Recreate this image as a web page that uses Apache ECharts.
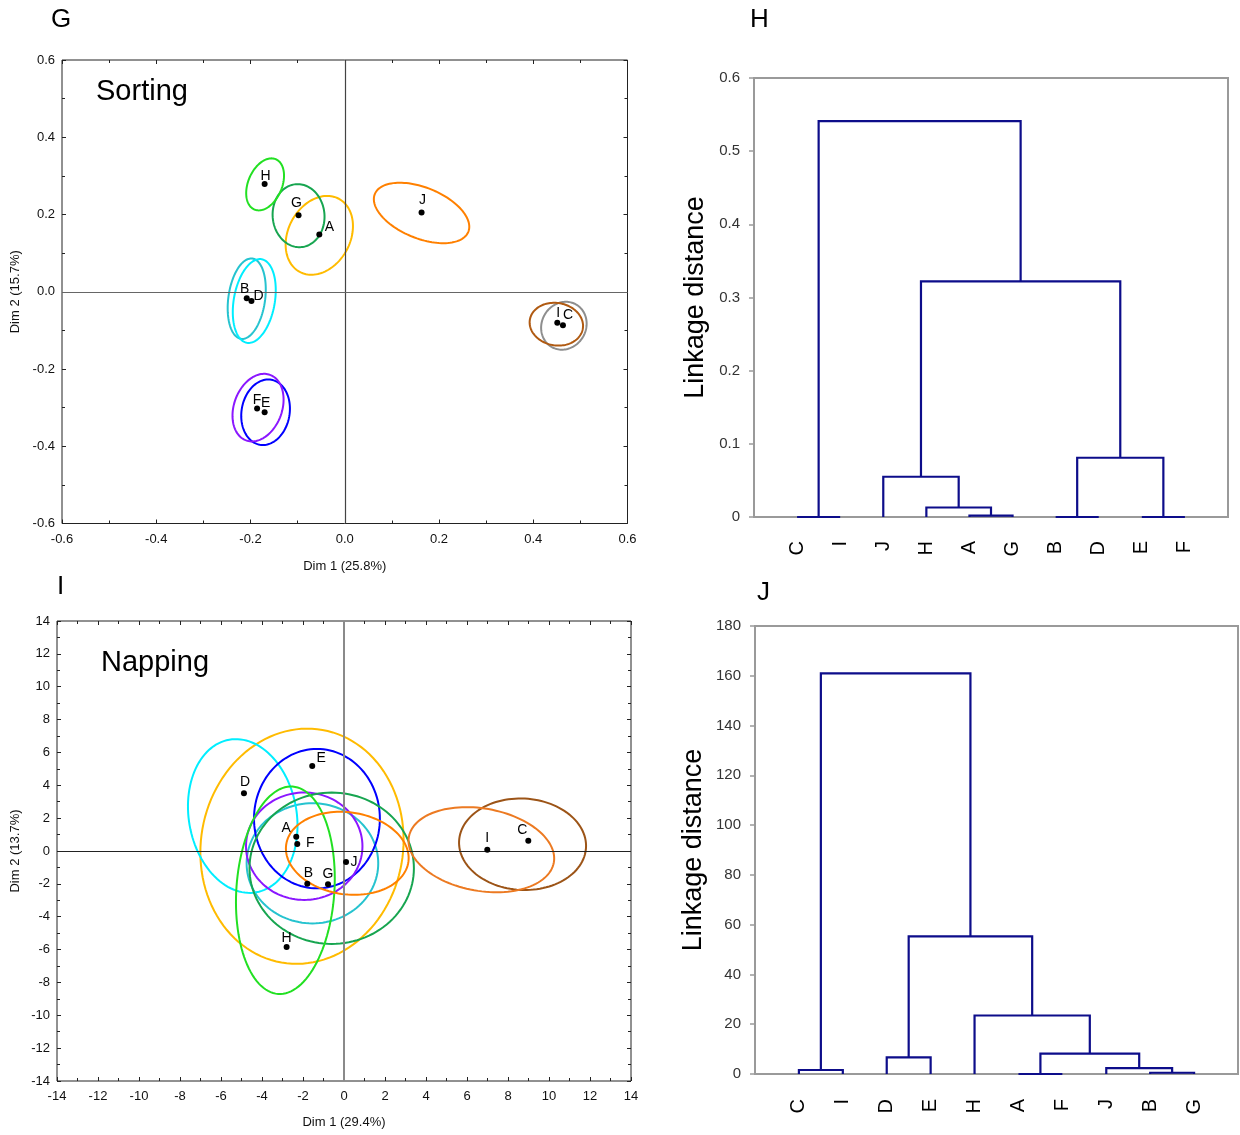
<!DOCTYPE html>
<html>
<head>
<meta charset="utf-8">
<script src="https://cdn.jsdelivr.net/npm/echarts@6/dist/echarts.min.js"></script>
<style>
  html, body { margin: 0; padding: 0; background: #ffffff; }
  #chart { width: 1240px; height: 1135px; }
</style>
</head>
<body>
<div id="chart"></div>
<script>
// ---------- Products ----------
const products = ['A', 'B', 'C', 'D', 'E', 'F', 'G', 'H', 'I', 'J'];

// ---------- Sorting map (panel G) ----------
const sortDim1 = [-0.054, -0.208, 0.463, -0.198, -0.170, -0.186, -0.098, -0.170, 0.451, 0.163];
const sortDim2 = [0.148, -0.017, -0.087, -0.024, -0.312, -0.302, 0.198, 0.279, -0.080, 0.205];
// confidence ellipses: centre, semi-axes (in Dim 1 units), tilt (degrees)
const sortEllCx   = [-0.054, -0.208, 0.465, -0.192, -0.168, -0.184, -0.098, -0.169, 0.449, 0.163];
const sortEllCy   = [0.146, -0.018, -0.088, -0.024, -0.312, -0.300, 0.197, 0.278, -0.084, 0.204];
const sortEllA    = [0.088, 0.086, 0.052, 0.090, 0.070, 0.074, 0.067, 0.058, 0.057, 0.107];
const sortEllB    = [0.066, 0.039, 0.047, 0.0435, 0.051, 0.051, 0.055, 0.036, 0.045, 0.054];
const sortEllTilt = [62, 82, 60, 80, 80, 70, 95, 67, -10, -22];

// ---------- Napping map (panel I) ----------
const napDim1 = [-2.33, -1.79, 8.99, -4.88, -1.55, -2.28, -0.78, -2.80, 6.99, 0.10];
const napDim2 = [0.87, -1.99, 0.63, 3.51, 5.17, 0.43, -2.03, -5.84, 0.08, -0.67];
const napEllCx   = [-2.05, -1.54, 8.71, -4.94, -1.32, -1.94, -0.60, -2.86, 6.70, 0.16];
const napEllCy   = [0.29, -0.75, 0.41, 2.13, 1.97, 0.29, -1.05, -2.39, 0.08, -0.14];
const napEllA    = [5.76, 3.21, 3.10, 3.78, 3.40, 2.84, 4.01, 5.07, 3.59, 3.01];
const napEllB    = [4.93, 2.93, 2.23, 2.63, 3.07, 2.62, 3.69, 2.39, 2.01, 2.00];
const napEllTilt = [80, 0, -3, 100, 90, 0, 0, 86, -10, -8];

// ---------- Cluster trees (panels H and J) ----------
// each merge: [left, right, height]; a letter is a leaf, a number refers to an earlier merge
const sortLeaves = ['C', 'I', 'J', 'H', 'A', 'G', 'B', 'D', 'E', 'F'];
const sortMerges = [
  ['C', 'I', 0.0], ['A', 'G', 0.002], ['H', 1, 0.013], ['J', 2, 0.055],
  ['B', 'D', 0.0], ['E', 'F', 0.0], [4, 5, 0.081], [3, 6, 0.322], [0, 7, 0.541]
];
const napLeaves = ['C', 'I', 'D', 'E', 'H', 'A', 'F', 'J', 'B', 'G'];
const napMerges = [
  ['C', 'I', 1.6], ['D', 'E', 6.7], ['B', 'G', 0.5], ['J', 2, 2.4],
  ['A', 'F', 0.0], [4, 3, 8.2], ['H', 5, 23.5], [1, 6, 55.3], [0, 7, 161]
];

// ---------- Styling ----------
const sortColors = ['#ffbb00', '#26c3cf', '#8e8e8e', '#00eeff', '#0000ff', '#8b17ff', '#17a550', '#22e022', '#b05a12', '#ff8000'];
const napColors  = ['#ffbb00', '#26c3cf', '#9c5417', '#00eeff', '#0000ff', '#8b17ff', '#17a550', '#22e022', '#ec7a22', '#ff8000'];
const sortLabelOffset = { A: [10, -7], B: [-2, -9], C: [5, -10], D: [7, -5], E: [1, -9], F: [0, -8], G: [-2, -12], H: [1, -8], I: [1, -10], J: [1, -12] };
const napLabelOffset  = { A: [-10, -9], B: [1, -11], C: [-6, -11], D: [1, -11], E: [9, -8], F: [13, -1], G: [0, -10], H: [0, -9], I: [0, -12], J: [8, 0] };
const FONT = '"Liberation Sans", Arial, sans-serif';
const TREE_COLOR = '#0d0d8a';

function ellipseData(cx, cy, a, b, tilt) {
  return products.map((p, i) => [cx[i], cy[i], a[i], b[i], tilt[i], i]);
}

function ellipseRenderer(colors) {
  return function (params, api) {
    const c = api.coord([api.value(0), api.value(1)]);
    const sa = api.size([api.value(2), 0])[0];
    const sb = api.size([api.value(3), 0])[0];
    const th = api.value(4) * Math.PI / 180;
    const pts = [];
    const n = 120;
    for (let k = 0; k <= n; k++) {
      const t = (k / n) * 2 * Math.PI;
      const ex = sa * Math.cos(t), ey = sb * Math.sin(t);
      pts.push([c[0] + ex * Math.cos(th) - ey * Math.sin(th),
                c[1] - (ex * Math.sin(th) + ey * Math.cos(th))]);
    }
    return {
      type: 'polygon',
      shape: { points: pts },
      style: { fill: 'none', stroke: colors[api.value(5)], lineWidth: 2 }
    };
  };
}

function pointData(xs, ys, offsets) {
  return products.map((p, i) => ({
    value: [xs[i], ys[i]],
    name: p,
    label: { offset: offsets[p] }
  }));
}

// horizontal/vertical segments of a dendrogram from its merge list
function treeLinks(leaves, merges) {
  const leafPos = {};
  leaves.forEach((n, i) => { leafPos[n] = { x: i + 1, h: 0 }; });
  const nodes = [];
  const get = id => (typeof id === 'number' ? nodes[id] : leafPos[id]);
  const links = [];
  merges.forEach(([l, r, h]) => {
    const L = get(l), R = get(r);
    links.push([L.x, L.h, R.x, R.h, h]);
    nodes.push({ x: (L.x + R.x) / 2, h: h });
  });
  return links;
}

function linkRenderer(params, api) {
  const p1 = api.coord([api.value(0), api.value(1)]);
  const p2 = api.coord([api.value(0), api.value(4)]);
  const p3 = api.coord([api.value(2), api.value(4)]);
  const p4 = api.coord([api.value(2), api.value(3)]);
  return {
    type: 'polyline',
    shape: { points: [p1, p2, p3, p4] },
    style: { fill: 'none', stroke: TREE_COLOR, lineWidth: 2.2 }
  };
}

// ---------- Axis helpers ----------
function mapAxis(gridIndex, pos, min, max, interval, fmt, name, nameGap, showLabel) {
  const ax = {
    type: 'value', gridIndex: gridIndex, position: pos,
    min: min, max: max, interval: interval,
    axisLine: { show: false, onZero: false },
    splitLine: { show: false },
    axisTick: { show: true, inside: true, length: 4, lineStyle: { color: '#222', width: 1 } },
    minorTick: { show: true, splitNumber: 2, length: 3, lineStyle: { color: '#222', width: 1 } },
    axisLabel: {
      show: showLabel, color: '#111', fontSize: 13, fontFamily: FONT,
      margin: (pos === 'bottom') ? 9 : 7, formatter: fmt
    }
  };
  if (name) {
    ax.name = name;
    ax.nameLocation = 'middle';
    ax.nameGap = nameGap;
    ax.nameTextStyle = { color: '#111', fontSize: 13, fontFamily: FONT };
  }
  return ax;
}

const fmt1 = v => v.toFixed(1);
const fmt0 = v => String(Math.round(v));

function leafAxis(gridIndex, leaves, margin) {
  return {
    type: 'value', gridIndex: gridIndex, min: 0, max: 11, interval: 1,
    axisLine: { show: false, onZero: false }, axisTick: { show: false }, splitLine: { show: false },
    axisLabel: {
      show: true, rotate: 90, margin: margin, color: '#000', fontSize: 20, fontFamily: FONT,
      showMinLabel: false, showMaxLabel: false,
      formatter: v => (v >= 1 && v <= leaves.length ? leaves[v - 1] : '')
    }
  };
}

function distAxis(gridIndex, max, interval, fmt, nameGap) {
  return {
    type: 'value', gridIndex: gridIndex, min: 0, max: max, interval: interval,
    axisLine: { show: false, onZero: false },
    splitLine: { show: false },
    axisTick: { show: true, inside: false, length: 5, lineStyle: { color: '#9a9a9a', width: 1.5 } },
    axisLabel: { color: '#333', fontSize: 15, fontFamily: FONT, margin: 14, formatter: fmt },
    name: 'Linkage distance', nameLocation: 'middle', nameGap: nameGap,
    nameTextStyle: { color: '#000', fontSize: 27, fontFamily: FONT }
  };
}

const crossLines = (vColor, vWidth, hColor, hWidth) => ({
  silent: true, symbol: 'none', animation: false,
  label: { show: false },
  data: [
    { xAxis: 0, lineStyle: { color: vColor, width: vWidth, type: 'solid' } },
    { yAxis: 0, lineStyle: { color: hColor, width: hWidth, type: 'solid' } }
  ]
});

const pointSeries = (xi, yi, data, lines) => ({
  type: 'scatter', xAxisIndex: xi, yAxisIndex: yi,
  symbol: 'circle', symbolSize: 6,
  itemStyle: { color: '#000', opacity: 1 },
  label: {
    show: true, position: 'inside', formatter: '{b}',
    color: '#000', fontSize: 14, fontFamily: FONT
  },
  data: data, z: 5,
  markLine: lines
});

const option = {
  animation: false,
  backgroundColor: '#ffffff',
  grid: [
    { left: 62, top: 60, width: 565.5, height: 463.5, show: true, borderColor: '#222', borderWidth: 1, containLabel: false, outerBoundsMode: 'none' },
    { left: 754, top: 78, width: 474, height: 439, show: true, borderColor: '#9a9a9a', borderWidth: 2, containLabel: false, outerBoundsMode: 'none' },
    { left: 57, top: 621, width: 574, height: 460, show: true, borderColor: '#222', borderWidth: 1, containLabel: false, outerBoundsMode: 'none' },
    { left: 755, top: 626, width: 483, height: 448, show: true, borderColor: '#9a9a9a', borderWidth: 2, containLabel: false, outerBoundsMode: 'none' }
  ],
  xAxis: [
    mapAxis(0, 'bottom', -0.6, 0.6, 0.2, fmt1, 'Dim 1 (25.8%)', 36, true),
    mapAxis(0, 'top', -0.6, 0.6, 0.2, fmt1, null, 0, false),
    leafAxis(1, sortLeaves, 24),
    mapAxis(2, 'bottom', -14, 14, 2, fmt0, 'Dim 1 (29.4%)', 35, true),
    mapAxis(2, 'top', -14, 14, 2, fmt0, null, 0, false),
    leafAxis(3, napLeaves, 25)
  ],
  yAxis: [
    mapAxis(0, 'left', -0.6, 0.6, 0.2, fmt1, 'Dim 2 (15.7%)', 40, true),
    mapAxis(0, 'right', -0.6, 0.6, 0.2, fmt1, null, 0, false),
    distAxis(1, 0.6, 0.1, v => (v === 0 ? '0' : v.toFixed(1)), 45),
    mapAxis(2, 'left', -14, 14, 2, fmt0, 'Dim 2 (13.7%)', 35, true),
    mapAxis(2, 'right', -14, 14, 2, fmt0, null, 0, false),
    distAxis(3, 180, 20, fmt0, 48)
  ],
  graphic: [
    { type: 'text', left: 51, top: 7, style: { text: 'G', fontSize: 26, fontFamily: FONT, fill: '#000' } },
    { type: 'text', left: 750, top: 7, style: { text: 'H', fontSize: 26, fontFamily: FONT, fill: '#000' } },
    { type: 'text', left: 57, top: 574, style: { text: 'I', fontSize: 26, fontFamily: FONT, fill: '#000' } },
    { type: 'text', left: 757, top: 580, style: { text: 'J', fontSize: 26, fontFamily: FONT, fill: '#000' } },
    { type: 'text', left: 96, top: 77, style: { text: 'Sorting', fontSize: 29, fontFamily: FONT, fill: '#000' } },
    { type: 'text', left: 101, top: 648, style: { text: 'Napping', fontSize: 29, fontFamily: FONT, fill: '#000' } }
  ],
  series: [
    {
      type: 'custom', xAxisIndex: 0, yAxisIndex: 0,
      renderItem: ellipseRenderer(sortColors),
      encode: { x: 0, y: 1 },
      data: ellipseData(sortEllCx, sortEllCy, sortEllA, sortEllB, sortEllTilt),
      z: 3
    },
    pointSeries(0, 0, pointData(sortDim1, sortDim2, sortLabelOffset), crossLines('#444', 1.2, '#666', 1.2)),
    {
      type: 'custom', xAxisIndex: 2, yAxisIndex: 2,
      renderItem: linkRenderer,
      encode: { x: [0, 2], y: [1, 3, 4] },
      data: treeLinks(sortLeaves, sortMerges),
      z: 4
    },
    {
      type: 'custom', xAxisIndex: 3, yAxisIndex: 3,
      renderItem: ellipseRenderer(napColors),
      encode: { x: 0, y: 1 },
      data: ellipseData(napEllCx, napEllCy, napEllA, napEllB, napEllTilt),
      z: 3
    },
    pointSeries(3, 3, pointData(napDim1, napDim2, napLabelOffset), crossLines('#8a8a8a', 2, '#222', 1)),
    {
      type: 'custom', xAxisIndex: 5, yAxisIndex: 5,
      renderItem: linkRenderer,
      encode: { x: [0, 2], y: [1, 3, 4] },
      data: treeLinks(napLeaves, napMerges),
      z: 4
    }
  ]
};

const chart = echarts.init(document.getElementById('chart'), null, { renderer: 'canvas' });
chart.setOption(option);
</script>
</body>
</html>
